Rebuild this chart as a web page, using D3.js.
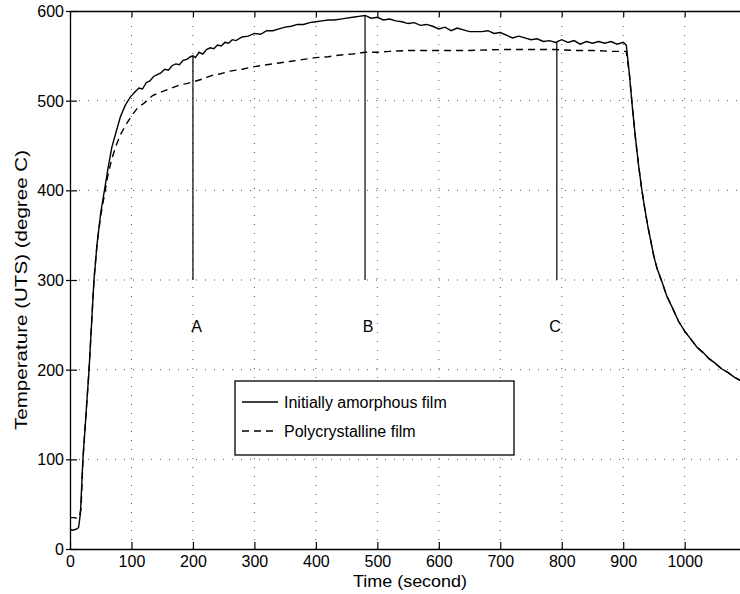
<!DOCTYPE html>
<html><head><meta charset="utf-8">
<script src="https://cdn.jsdelivr.net/npm/d3@7"></script>
<style>body{margin:0;background:#fff}svg{display:block}text{font-family:"Liberation Sans",Arial,Helvetica,sans-serif;fill:#000}</style>
</head><body><svg id="c" width="740" height="594"></svg>
<script>
const xTicks = [0,100,200,300,400,500,600,700,800,900,1000];
const yTicks = [0,100,200,300,400,500,600];
const seriesNames = ["Initially amorphous film","Polycrystalline film"];
const amorphous = [[0,22],[4,21],[10,22],[14,24],[17,40],[21,100],[26,150],[31,200],[35,250],[39,300],[44,340],[50,375],[56,400],[62,425],[68,448],[75,465],[82,482],[90,495],[98,504],[106,510],[112,514],[118,513],[124,520],[130,522],[136,527],[142,529],[148,531],[154,535],[160,534],[166,539],[172,541],[178,540],[184,545],[190,546],[196,549],[200,550],[204,548],[210,554],[216,552],[222,557],[228,559],[234,558],[240,562],[246,561],[252,565],[258,564],[264,568],[270,567],[280,571],[290,572],[300,575],[310,574],[320,578],[330,578],[340,580],[350,582],[360,583],[370,585],[380,585],[390,587],[400,588],[410,589],[420,590],[430,590],[440,591],[450,592],[460,593],[470,594],[480,595],[490,592],[500,593],[510,590],[520,591],[530,589],[540,588],[550,586],[560,587],[570,584],[580,585],[590,583],[600,580],[610,582],[620,578],[630,581],[640,579],[650,577],[660,577],[670,577],[680,578],[690,575],[700,576],[710,573],[720,570],[730,572],[740,570],[750,568],[760,569],[770,566],[780,567],[790,565],[800,568],[810,565],[820,567],[830,563],[840,566],[850,564],[860,566],[870,564],[880,566],[890,563],[900,565],[905,562],[910,530],[915,492],[920,458],[925,428],[930,402],[935,380],[940,360],[945,343],[950,326],[955,313],[963,298],[971,282],[980,269],[990,254],[1000,243],[1010,234],[1020,225],[1030,219],[1040,212],[1050,207],[1060,201],[1070,197],[1080,192],[1090,188]];
const polycrystalline = [[0,35],[8,35],[12,34],[15,36],[18,45],[21,100],[26,150],[31,200],[35,250],[39,300],[44,340],[50,372],[56,395],[62,418],[68,435],[75,450],[82,462],[90,472],[100,483],[110,492],[120,497],[135,506],[150,510],[165,514],[180,518],[190,519],[200,521],[215,524],[230,528],[245,530],[260,533],[280,535],[300,538],[320,540],[340,542],[360,544],[380,546],[400,548],[420,549],[440,551],[460,552],[480,554],[500,554],[520,555],[550,556],[600,556],[650,556],[700,557],[750,557],[790,557],[820,556],[850,556],[880,555],[905,555],[910,530],[915,492],[920,458],[925,428],[930,402],[935,380],[940,360],[945,343],[950,326],[955,313],[963,298],[971,282],[980,269],[990,254],[1000,243],[1010,234],[1020,225],[1030,219],[1040,212],[1050,207],[1060,201],[1070,197],[1080,192],[1090,188]];
const markerTimes = [200,480,792];
const markerTops = [550,595,565];
const markerLabels = ["A","B","C"];
const markerLabelTimes = [206,485,789];
const markerBase = 300;
const markerLabelTemp = 242;

const svg = d3.select("#c");
const x = d3.scaleLinear().domain([0,1090]).range([70,740]);
const y = d3.scaleLinear().domain([0,600]).range([549,11]);

// grid
const grid = svg.append("g").attr("stroke","#555").attr("stroke-width",1).attr("stroke-dasharray","1,8");
grid.selectAll("line.gx").data(xTicks.filter(d=>d>0)).join("line")
  .attr("x1",d=>x(d)).attr("x2",d=>x(d)).attr("y1",y(0)).attr("y2",y(600));
grid.selectAll("line.gy").data(yTicks.filter(d=>d>0&&d<600)).join("line")
  .attr("x1",x(0)).attr("x2",740).attr("y1",d=>y(d)).attr("y2",d=>y(d));

// axes
const xb = svg.append("g").attr("transform",`translate(0,${y(0)})`)
  .call(d3.axisBottom(x).tickValues(xTicks).tickFormat(d3.format("d")).tickSize(-7).tickPadding(10).tickSizeOuter(0));
const xt = svg.append("g").attr("transform",`translate(0,${y(600)})`)
  .call(d3.axisTop(x).tickValues(xTicks).tickSize(-6).tickFormat("").tickSizeOuter(0));
const yl = svg.append("g").attr("transform",`translate(${x(0)},0)`)
  .call(d3.axisLeft(y).tickValues(yTicks).tickFormat(d3.format("d")).tickSize(4).tickPadding(2).tickSizeOuter(0));
yl.selectAll(".tick line").attr("x2",7).attr("x1",-4);
[xb,xt,yl].forEach(g=>{
  g.select(".domain").attr("stroke","#000").attr("stroke-width",1.3);
  g.selectAll(".tick line").attr("stroke","#000").attr("stroke-width",1.2);
  g.selectAll("text").attr("font-size",16).attr("font-family","Liberation Sans, Arial, sans-serif").attr("fill","#000");
});
xb.selectAll(".tick text").attr("dy","0.5em");
yl.selectAll(".tick text").attr("dy","0.35em");

// markers
const mk = svg.append("g");
mk.selectAll("line").data(markerTimes).join("line")
  .attr("x1",d=>x(d)).attr("x2",d=>x(d))
  .attr("y1",y(markerBase)).attr("y2",(d,i)=>y(markerTops[i]))
  .attr("stroke","#000").attr("stroke-width",1.2);
mk.selectAll("text").data(markerLabels).join("text")
  .attr("x",(d,i)=>x(markerLabelTimes[i])).attr("y",y(markerLabelTemp))
  .attr("text-anchor","middle").attr("font-size",16).text(d=>d);

// lines
const line = d3.line().x(d=>x(d[0])).y(d=>y(d[1]));
svg.append("path").datum(polycrystalline).attr("d",line).attr("fill","none")
  .attr("stroke","#000").attr("stroke-width",1.4).attr("stroke-dasharray","7,5");
svg.append("path").datum(amorphous).attr("d",line).attr("fill","none")
  .attr("stroke","#000").attr("stroke-width",1.4);

// legend
const lg = svg.append("g");
lg.append("rect").attr("x",235).attr("y",381).attr("width",279).attr("height",74)
  .attr("fill","#fff").attr("stroke","#000").attr("stroke-width",1.3);
const dashes = [null,"7,5"];
seriesNames.forEach((n,i)=>{
  const yy = 402 + i*29;
  lg.append("line").attr("x1",242).attr("x2",278).attr("y1",yy).attr("y2",yy)
    .attr("stroke","#000").attr("stroke-width",1.3).attr("stroke-dasharray",dashes[i]);
  lg.append("text").attr("x",284).attr("y",yy+6).attr("font-size",16).text(n);
});

// axis titles
svg.append("text").attr("x",410).attr("y",587).attr("text-anchor","middle")
  .attr("font-size",17).attr("textLength",114).attr("lengthAdjust","spacingAndGlyphs").text("Time (second)");
svg.append("text").attr("transform","translate(27,290) rotate(-90)").attr("text-anchor","middle")
  .attr("font-size",17).attr("textLength",280).attr("lengthAdjust","spacingAndGlyphs").text("Temperature (UTS) (degree C)");
</script></body></html>
